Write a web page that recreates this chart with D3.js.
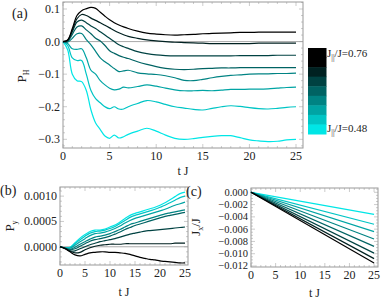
<!DOCTYPE html>
<html>
<head>
<meta charset="utf-8">
<script src="https://cdn.jsdelivr.net/npm/d3@7"></script>
<style>
  body { margin: 0; background: #fff; }
  svg { display: block; }
</style>
</head>
<body>
<svg width="381" height="302" font-family="'Liberation Serif', 'DejaVu Serif', serif"></svg>
<script>
// coupling ratio J||/J of each curve, black -> cyan
const couplings = [0.76, 0.72, 0.68, 0.64, 0.60, 0.56, 0.52, 0.48];
// colour bar cells (top cell is clamped to black)
const barLevels = [0.80, 0.76, 0.72, 0.68, 0.64, 0.60, 0.56, 0.52, 0.48];

// panel (a): P_H vs t J
const tA = [0, 0.5, 1, 1.5, 2, 2.5, 3, 3.5, 4, 4.5, 5, 5.5, 6, 6.5, 7, 8, 9, 10, 11, 12, 13, 14, 15, 16, 17, 18, 19, 20, 21, 22, 23, 24, 25];
const pH = [
  [0, 0.005, 0.04, 0.08, 0.095, 0.101, 0.105, 0.102, 0.09, 0.078, 0.067, 0.058, 0.051, 0.045, 0.04, 0.032, 0.026, 0.023, 0.021, 0.02, 0.021, 0.022, 0.024, 0.025, 0.026, 0.027, 0.028, 0.028, 0.029, 0.029, 0.029, 0.029, 0.029],
  [0, 0.004, 0.035, 0.07, 0.083, 0.08, 0.072, 0.065, 0.058, 0.05, 0.042, 0.034, 0.027, 0.021, 0.016, 0.01, 0.005, 0.002, 0, -0.002, -0.003, -0.004, -0.005, -0.006, -0.006, -0.006, -0.006, -0.006, -0.005, -0.005, -0.005, -0.005, -0.005],
  [0, 0.003, 0.03, 0.06, 0.066, 0.058, 0.048, 0.04, 0.03, 0.02, 0.01, 0, -0.01, -0.016, -0.021, -0.031, -0.037, -0.041, -0.043, -0.044, -0.044, -0.044, -0.044, -0.044, -0.044, -0.044, -0.043, -0.043, -0.043, -0.043, -0.042, -0.042, -0.042],
  [0, 0, 0.022, 0.045, 0.048, 0.036, 0.024, 0.01, 0.002, -0.012, -0.028, -0.036, -0.043, -0.048, -0.052, -0.062, -0.07, -0.077, -0.082, -0.085, -0.086, -0.085, -0.083, -0.082, -0.081, -0.081, -0.08, -0.08, -0.08, -0.08, -0.08, -0.08, -0.08],
  [0, -0.002, 0.01, 0.024, 0.025, 0.006, -0.01, -0.03, -0.05, -0.062, -0.072, -0.083, -0.092, -0.09, -0.088, -0.096, -0.099, -0.101, -0.105, -0.111, -0.119, -0.12, -0.116, -0.111, -0.107, -0.104, -0.102, -0.1, -0.099, -0.099, -0.098, -0.098, -0.097],
  [0, -0.006, -0.022, -0.024, -0.022, -0.05, -0.088, -0.1, -0.12, -0.133, -0.143, -0.148, -0.146, -0.14, -0.142, -0.138, -0.133, -0.137, -0.143, -0.148, -0.151, -0.151, -0.15, -0.151, -0.149, -0.147, -0.147, -0.146, -0.146, -0.145, -0.143, -0.141, -0.14],
  [0, -0.012, -0.05, -0.058, -0.058, -0.1, -0.15, -0.175, -0.188, -0.2, -0.206, -0.2, -0.207, -0.207, -0.2, -0.19, -0.181, -0.185, -0.193, -0.2, -0.204, -0.208, -0.21, -0.205, -0.2, -0.197, -0.199, -0.203, -0.206, -0.207, -0.205, -0.202, -0.2],
  [0, -0.025, -0.1, -0.12, -0.123, -0.15, -0.21, -0.25, -0.27, -0.29, -0.297, -0.287, -0.296, -0.292, -0.285, -0.275, -0.266, -0.275, -0.287, -0.297, -0.3, -0.298, -0.294, -0.291, -0.289, -0.289, -0.295, -0.302, -0.305, -0.307, -0.306, -0.302, -0.3]
];

// panel (b): P_y vs t J
const tB = [0, 1, 2, 3, 4, 5, 6, 7, 8, 9, 10, 11, 12, 13, 14, 15, 16, 17, 18, 19, 20, 21, 22, 23, 24, 25];
const pY = [
  [0, -0.00004, -0.0001, -0.00016, -0.00018, -0.00015, -0.00012, -0.00011, -0.0001, -0.0001, -0.00011, -0.00011, -0.00012, -0.00013, -0.00015, -0.00018, -0.00021, -0.00023, -0.00025, -0.00026, -0.00028, -0.00029, -0.0003, -0.00031, -0.00032, -0.00032],
  [0, -0.00003, -0.00009, -0.00012, -0.00011, -0.00006, -0.00002, 0.00001, 0.00003, 0.00004, 0.00005, 0.00005, 0.00005, 0.00006, 0.00006, 0.00006, 0.00006, 0.00006, 0.00006, 0.00006, 0.00006, 0.00006, 0.00006, 0.00007, 0.00007, 0.00007],
  [0, -0.00003, -0.00008, -0.00008, -0.00004, 0, 0.00004, 0.00007, 0.0001, 0.00012, 0.00014, 0.00016, 0.00019, 0.00022, 0.00025, 0.00027, 0.00029, 0.00031, 0.00032, 0.00033, 0.00034, 0.00035, 0.00036, 0.00037, 0.00038, 0.00039],
  [0, -0.00003, -0.00006, -0.00004, 0.00001, 0.00006, 0.00011, 0.00014, 0.00016, 0.00018, 0.00021, 0.00025, 0.00029, 0.00034, 0.00038, 0.00042, 0.00045, 0.00048, 0.00051, 0.00054, 0.00057, 0.0006, 0.00062, 0.00064, 0.00066, 0.00068],
  [0, -0.00003, -0.00005, -0.00001, 0.00005, 0.0001, 0.00015, 0.00019, 0.00021, 0.00023, 0.00026, 0.0003, 0.00034, 0.00039, 0.00044, 0.00047, 0.0005, 0.00053, 0.00056, 0.00059, 0.00062, 0.00065, 0.00067, 0.00069, 0.00071, 0.00073],
  [0, -0.00002, -0.00003, 0.00003, 0.0001, 0.00016, 0.00022, 0.00026, 0.00027, 0.00029, 0.00032, 0.00036, 0.00041, 0.00047, 0.00052, 0.00056, 0.00059, 0.00062, 0.00065, 0.00068, 0.00071, 0.00074, 0.00078, 0.00082, 0.00085, 0.00088],
  [0, -0.00002, -0.00002, 0.00006, 0.00014, 0.00021, 0.00027, 0.0003, 0.00031, 0.00033, 0.00036, 0.0004, 0.00046, 0.00052, 0.00058, 0.00062, 0.00065, 0.00068, 0.00071, 0.00074, 0.00078, 0.00082, 0.00087, 0.00092, 0.00097, 0.001],
  [0, -0.00002, -0.00001, 0.00008, 0.00017, 0.00024, 0.0003, 0.00033, 0.00033, 0.00035, 0.00039, 0.00043, 0.00049, 0.00056, 0.00062, 0.00066, 0.00069, 0.00072, 0.00075, 0.00078, 0.00082, 0.00087, 0.00093, 0.00099, 0.00105, 0.00108]
];

// panel (c): J_x/J, straight lines from 0
const tC = [0, 25];
const jxEnd = [-0.0115, -0.0108, -0.0099, -0.0088, -0.0076, -0.0064, -0.0052, -0.0036];

// tick values
const ticksT = [0, 5, 10, 15, 20, 25];
const ticksA = [-0.3, -0.2, -0.1, 0.0, 0.1];
const ticksB = [0, 0.0005, 0.001];
const ticksC = [0, -0.002, -0.004, -0.006, -0.008, -0.010, -0.012];

const svg = d3.select('svg');
const color = d3.scaleLinear()
  .domain([0.48, 0.76])
  .range(['#00e6e6', '#000000'])
  .clamp(true);

const minus = s => s.replace('-', '\u2212');

function panel(o) {
  const x = d3.scaleLinear().domain(o.xDom).range([o.left, o.right]);
  const y = d3.scaleLinear().domain(o.yDom).range([o.bottom, o.top]);
  const g = svg.append('g');

  // zero line
  if (o.zero) {
    g.append('line')
      .attr('x1', o.left).attr('x2', o.right)
      .attr('y1', y(0)).attr('y2', y(0))
      .style('stroke', '#aaa').style('stroke-width', 1);
  }

  // minor + major ticks, inward, on all four sides
  const tk = g.append('g').style('stroke', '#aaa').style('stroke-width', 0.6);
  const xMinor = d3.range(0, o.xDom[1], 1);
  xMinor.forEach(v => {
    const len = ticksT.includes(v) ? 4 : 2;
    tk.append('line').attr('x1', x(v)).attr('x2', x(v)).attr('y1', o.bottom).attr('y2', o.bottom - len);
    tk.append('line').attr('x1', x(v)).attr('x2', x(v)).attr('y1', o.top).attr('y2', o.top + len);
  });
  const yMinor = d3.range(o.yMinorStart, o.yDom[1], o.yMinorStep);
  yMinor.forEach(v => {
    if (y(v) > o.bottom + 0.1 || y(v) < o.top - 0.1) return;
    const major = o.yTicks.some(t => Math.abs(t - v) < o.yMinorStep / 10);
    const len = major ? 4 : 2;
    tk.append('line').attr('y1', y(v)).attr('y2', y(v)).attr('x1', o.left).attr('x2', o.left + len);
    tk.append('line').attr('y1', y(v)).attr('y2', y(v)).attr('x1', o.right).attr('x2', o.right - len);
  });

  // frame
  g.append('rect')
    .attr('x', o.left).attr('y', o.top)
    .attr('width', o.right - o.left).attr('height', o.bottom - o.top)
    .style('fill', 'none').style('stroke', '#999').style('stroke-width', 1);

  // lines
  const line = d3.line()
    .x(d => x(d[0]))
    .y(d => y(d[1]))
    .curve(d3.curveCatmullRom);
  const series = o.values.map((vals, i) => ({c: couplings[i], pts: o.t.map((t, j) => [t, vals[j]])}));
  g.selectAll('path.curve')
    .data(series.slice().reverse())
    .enter()
    .append('path')
    .attr('class', 'curve')
    .attr('d', d => line(d.pts))
    .style('fill', 'none')
    .style('stroke', d => color(d.c))
    .style('stroke-width', 1.2);

  // tick labels
  g.selectAll('text.xt')
    .data(ticksT)
    .enter()
    .append('text')
    .attr('class', 'xt')
    .attr('x', d => x(d))
    .attr('y', o.bottom + 12)
    .style('text-anchor', 'middle')
    .style('font-size', '12px')
    .style('fill', '#222')
    .text(d => d);
  g.selectAll('text.yt')
    .data(o.yTicks)
    .enter()
    .append('text')
    .attr('class', 'yt')
    .attr('x', o.left - 3)
    .attr('y', d => y(d) + o.yFont * 0.33)
    .style('text-anchor', 'end')
    .style('font-size', o.yFont + 'px')
    .style('fill', '#222')
    .text(d => minus(o.yFmt(d)));

  // x label
  g.append('text')
    .attr('x', (o.left + o.right) / 2)
    .attr('y', o.bottom + o.xLabDy)
    .style('text-anchor', 'middle')
    .style('font-size', '12px')
    .style('fill', '#222')
    .text('t  J');

  return {x, y, g};
}

// (a)
panel({
  left: 63, right: 303, top: 2, bottom: 148,
  xDom: [0, 25.75], yDom: [-0.3267, 0.1215],
  t: tA, values: pH, zero: true,
  yTicks: ticksA, yMinorStart: -0.32, yMinorStep: 0.02,
  yFmt: d3.format('.1f'), yFont: 12, xLabDy: 27
});
// (b)
panel({
  left: 60, right: 188, top: 187, bottom: 265,
  xDom: [0, 25.6], yDom: [-0.00036, 0.00118],
  t: tB, values: pY, zero: true,
  yTicks: ticksB, yMinorStart: -0.0003, yMinorStep: 0.0001,
  yFmt: d3.format('.4f'), yFont: 12, xLabDy: 31
});
// (c)
panel({
  left: 251, right: 378, top: 188, bottom: 267,
  xDom: [0, 25.8], yDom: [-0.01216, 0.0007],
  t: tC, values: jxEnd.map(v => [0, v]), zero: false,
  yTicks: ticksC, yMinorStart: -0.012, yMinorStep: 0.0005,
  yFmt: d3.format('.3f'), yFont: 10.5, xLabDy: 30
});

// panel letters
[['(a)', 12, 18], ['(b)', 0, 195], ['(c)', 186, 196]].forEach(([s, px, py]) => {
  svg.append('text').attr('x', px).attr('y', py).style('font-size', '14px').style('fill', '#222').text(s);
});

// y-axis titles (rotated)
function yTitle(px, py, parts) {
  const t = svg.append('text')
    .attr('transform', `translate(${px},${py}) rotate(-90)`)
    .style('text-anchor', 'middle')
    .style('font-size', '13px')
    .style('fill', '#222');
  parts.forEach(([s, sub]) => {
    t.append('tspan')
      .attr('dy', sub === 1 ? 3 : sub === -1 ? -3 : null)
      .style('font-size', sub === 1 ? '8px' : null)
      .text(s);
  });
}
yTitle(26, 76, [['P', 0], ['H', 1], ['', -1]]);
yTitle(14, 226, [['P', 0], ['y', 1], ['', -1]]);
yTitle(200, 227, [['J', 0], ['x', 1], ['/J', -1]]);

// colour bar
const cbY = d3.scaleBand().domain(barLevels).range([48, 134]);
svg.selectAll('rect.cb')
  .data(barLevels)
  .enter()
  .append('rect')
  .attr('class', 'cb')
  .attr('x', 308)
  .attr('y', d => cbY(d))
  .attr('width', 18.5)
  .attr('height', cbY.bandwidth() + 0.5)
  .style('fill', d => color(d));

function cbLabel(py, val) {
  const t = svg.append('text').attr('x', 327).attr('y', py).style('font-size', '11px').style('fill', '#222');
  t.append('tspan').text('J');
  t.append('tspan').attr('dy', 3).style('font-size', '8px').text('||');
  t.append('tspan').attr('dy', -3).text('/J=' + val);
}
cbLabel(57, couplings[0].toFixed(2));
cbLabel(132, couplings[couplings.length - 1].toFixed(2));
</script>
</body>
</html>
